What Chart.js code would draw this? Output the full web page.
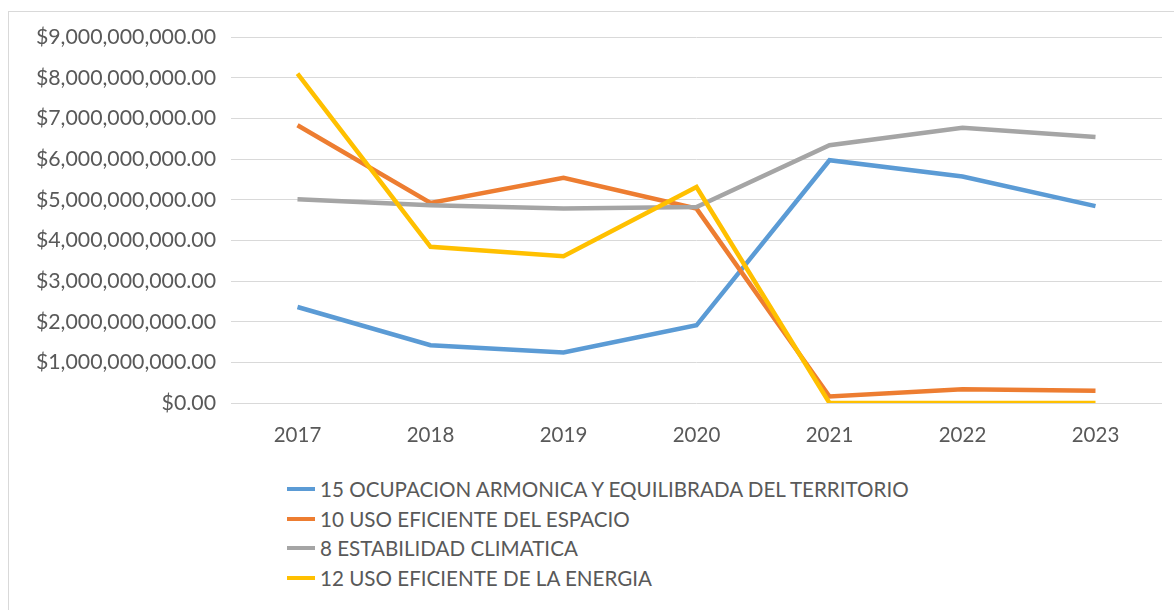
<!DOCTYPE html>
<html>
<head>
<meta charset="utf-8">
<script src="https://cdn.jsdelivr.net/npm/chart.js@4"></script>
<style>
    html, body { margin: 0; padding: 0; background: #fff; overflow: hidden; }
    #frame {
        position: absolute; left: 8px; top: 11px; width: 1200px; height: 640px;
        border-left: 1px solid #d9d9d9; border-top: 1px solid #d9d9d9;
    }
    #wrap { position: absolute; left: 0; top: 0; width: 1174px; height: 460px; }
    #legend {
        position: absolute; left: 287px; top: 474px;
        font-family: Lato, sans-serif; font-size: 20.6px; color: #595959;
    }
    .item { display: flex; align-items: center; height: 29.7px; white-space: nowrap; }
    .swatch { width: 28px; height: 4px; margin-right: 5px; }
</style>
</head>
<body>
<div id="frame"></div>
<div id="wrap"><canvas id="chart"></canvas></div>
<div id="legend"></div>
<script>
// Data
const years = ['2017', '2018', '2019', '2020', '2021', '2022', '2023'];
const seriesNames = [
    '15 OCUPACION ARMONICA Y EQUILIBRADA DEL TERRITORIO',
    '10 USO EFICIENTE DEL ESPACIO',
    '8 ESTABILIDAD CLIMATICA',
    '12 USO EFICIENTE DE LA ENERGIA'
];
const ocupacion = [2.36e9, 1.42e9, 1.24e9, 1.91e9, 5.97e9, 5.57e9, 4.84e9];
const usoEspacio = [6.83e9, 4.92e9, 5.54e9, 4.78e9, 0.16e9, 0.34e9, 0.30e9];
const estabilidad = [5.01e9, 4.86e9, 4.78e9, 4.82e9, 6.34e9, 6.77e9, 6.54e9];
const usoEnergia = [8.10e9, 3.84e9, 3.61e9, 5.31e9, 0, 0, 0];
const seriesColors = ['#5b9bd5', '#ed7d31', '#a5a5a5', '#ffc000'];
const yMax = 9e9;
const yStep = 1e9;

const textColor = '#595959';
const fontFamily = 'Lato, sans-serif';

const allSeries = [ocupacion, usoEspacio, estabilidad, usoEnergia];
const datasets = allSeries.map((values, i) => ({
    label: seriesNames[i],
    data: values,
    borderColor: seriesColors[i],
    backgroundColor: seriesColors[i],
    borderWidth: 4.5,
    pointRadius: 0,
    tension: 0,
    fill: false,
    // later series drawn on top, as in the original
    order: allSeries.length - i
}));

const fmtMoney = v => '$' + Number(v).toLocaleString('en-US', {
    minimumFractionDigits: 2, maximumFractionDigits: 2
});

const chart = new Chart(document.getElementById('chart').getContext('2d'), {
    type: 'line',
    data: { labels: years, datasets: datasets },
    options: {
        responsive: true,
        maintainAspectRatio: false,
        animation: false,
        layout: { padding: { top: 37, right: 12, bottom: 0, left: 0 } },
        plugins: { legend: { display: false }, tooltip: { enabled: false } },
        scales: {
            x: {
                offset: true,
                grid: { display: false },
                border: { display: false },
                ticks: {
                    color: textColor, padding: 12,
                    font: { family: fontFamily, size: 20.5 }
                },
                afterFit: scale => { scale.height = 57; }
            },
            y: {
                min: 0,
                max: yMax,
                grid: { color: '#d9d9d9', lineWidth: 1, drawTicks: false },
                border: { display: false },
                ticks: {
                    stepSize: yStep, color: textColor, padding: 15,
                    font: { family: fontFamily, size: 21.3 },
                    callback: v => fmtMoney(v)
                },
                afterFit: scale => { scale.width = 231; }
            }
        }
    }
});

// Legend as a vertical list under the plot
const legendEl = document.getElementById('legend');
chart.data.datasets.forEach(ds => {
    const row = document.createElement('div');
    row.className = 'item';
    const sw = document.createElement('span');
    sw.className = 'swatch';
    sw.style.background = ds.borderColor;
    const txt = document.createElement('span');
    txt.textContent = ds.label;
    row.appendChild(sw);
    row.appendChild(txt);
    legendEl.appendChild(row);
});
</script>
</body>
</html>
